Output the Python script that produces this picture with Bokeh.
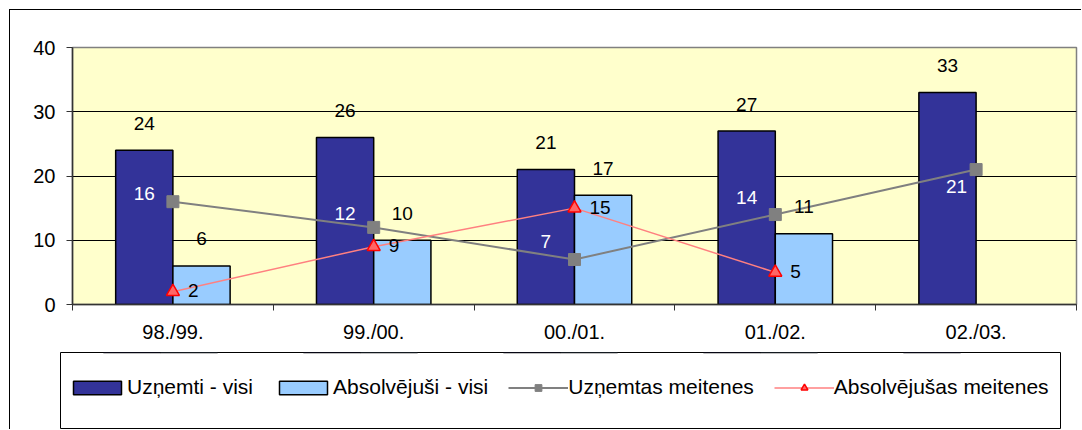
from bokeh.plotting import figure
from bokeh.layouts import column
from bokeh.models import ColumnDataSource, FixedTicker, Legend, LegendItem, Range1d
from bokeh.transform import dodge
from bokeh.core.properties import value
from bokeh.embed import file_html
from bokeh.resources import INLINE

# ---- data ----
years = ["98./99.", "99./00.", "00./01.", "01./02.", "02./03."]
uznemti_visi = [24, 26, 21, 27, 33]
absolvejusi_visi = [6, 10, 17, 11]
uznemtas_meitenes = [16, 12, 7, 14, 21]
absolvejusas_meitenes = [2, 9, 15, 5]
y_ticks = [0, 10, 20, 30, 40]
series_names = ["Uzņemti - visi", "Absolvējuši - visi",
                "Uzņemtas meitenes", "Absolvējušas meitenes"]

# ---- styling ----
FONT = "Liberation Sans"
DARK = "#333399"
LIGHT = "#99CCFF"
GREY = "#808080"
RED_LINE = "#FF8080"
TRI_FILL = "#FF6666"
TRI_LINE = "#FF0000"
BAR_W = 0.285
OFF = BAR_W / 2
W = 1071

centers = [i + 0.5 for i in range(len(years))]

src_all = ColumnDataSource(dict(x=centers, v=uznemti_visi,
                                t=[str(v) for v in uznemti_visi]))
src_abs = ColumnDataSource(dict(x=centers[:len(absolvejusi_visi)], v=absolvejusi_visi,
                                t=[str(v) for v in absolvejusi_visi]))
girls_dy = [-8, -14, -18, -17, 17]
girls_dx = [0, 0, 0, 0, 9]
src_gin = ColumnDataSource(dict(x=centers, v=uznemtas_meitenes,
                                t=[str(v) for v in uznemtas_meitenes],
                                dy=girls_dy, dx=girls_dx))
src_gout = ColumnDataSource(dict(x=centers[:len(absolvejusas_meitenes)], v=absolvejusas_meitenes,
                                 t=[str(v) for v in absolvejusas_meitenes]))


def draw_series(fig):
    r1 = fig.vbar(x=dodge("x", -OFF), top="v", bottom=0, width=BAR_W, source=src_all,
                  fill_color=DARK, line_color="black", line_width=1.5)
    r2 = fig.vbar(x=dodge("x", OFF), top="v", bottom=0, width=BAR_W, source=src_abs,
                  fill_color=LIGHT, line_color="black", line_width=1.5)
    r3l = fig.line("x", "v", source=src_gin, line_color=GREY, line_width=2)
    r3m = fig.scatter("x", "v", source=src_gin, marker="square", size=12,
                      fill_color=GREY, line_color=GREY)
    r4l = fig.line("x", "v", source=src_gout, line_color=RED_LINE, line_width=1.5)
    r4m = fig.scatter("x", "v", source=src_gout, marker="triangle", size=13,
                      fill_color=TRI_FILL, line_color=TRI_LINE, line_width=1.5)
    return [[r1], [r2], [r3l, r3m], [r4l, r4m]]


p = figure(width=W, height=335, output_backend="svg", toolbar_location=None,
           x_range=Range1d(0, len(years)), y_range=Range1d(y_ticks[0], y_ticks[-1]),
           min_border_left=62, min_border_top=37, min_border_right=5, min_border_bottom=41)
p.frame_align = False
p.background_fill_color = "#FFFFCC"
p.border_fill_color = "white"
p.outline_line_color = GREY
p.outline_line_width = 1.5

draw_series(p)

# data labels
common = dict(text_font=value(FONT), text_font_size="19px", text_baseline="middle")
p.text(x=dodge("x", -OFF), y="v", text="t", source=src_all, y_offset=-27,
       text_align="center", text_color="black", **common)
p.text(x=dodge("x", OFF), y="v", text="t", source=src_abs, y_offset=-27,
       text_align="center", text_color="black", **common)
p.text(x=dodge("x", -OFF), y="v", text="t", source=src_gin, y_offset="dy", x_offset="dx",
       text_align="center", text_color="white", **common)
p.text(x="x", y="v", text="t", source=src_gout, x_offset=15, y_offset=-1,
       text_align="left", text_color="black", **common)

# axes
p.xgrid.visible = False
p.ygrid.ticker = FixedTicker(ticks=y_ticks)
p.ygrid.grid_line_color = "black"
p.ygrid.grid_line_width = 1

xa = p.xaxis[0]
xa.ticker = FixedTicker(ticks=centers, minor_ticks=list(range(len(years) + 1)))
xa.major_label_overrides = {c: y for c, y in zip(centers, years)}
xa.major_tick_out = 0
xa.major_tick_in = 0
xa.minor_tick_out = 6
xa.minor_tick_in = 0
xa.minor_tick_line_color = "#333333"
xa.axis_line_color = "#333333"
xa.axis_line_width = 1.5
xa.major_label_standoff = 10
xa.major_label_text_font = FONT
xa.major_label_text_font_size = "20px"
xa.major_label_text_color = "black"

ya = p.yaxis[0]
ya.ticker = FixedTicker(ticks=y_ticks)
ya.major_tick_out = 6
ya.major_tick_in = 0
ya.minor_tick_out = 0
ya.minor_tick_in = 0
ya.major_tick_line_color = "#333333"
ya.axis_line_color = "#333333"
ya.axis_line_width = 1.5
ya.major_label_standoff = 11
ya.major_label_text_font = FONT
ya.major_label_text_font_size = "20px"
ya.major_label_text_color = "black"

# ---- legend panel: its frame is the legend box; the series are out of its view ----
pl = figure(width=W, height=84, output_backend="svg", toolbar_location=None,
            x_range=Range1d(0, len(years)), y_range=Range1d(-20, -10),
            x_axis_type=None, y_axis_type=None,
            min_border_left=50, min_border_top=7, min_border_right=21, min_border_bottom=1)
pl.frame_align = False
pl.xgrid.visible = False
pl.ygrid.visible = False
pl.background_fill_color = "white"
pl.border_fill_color = "white"
pl.outline_line_color = "black"
pl.outline_line_width = 1

groups = draw_series(pl)

legend = Legend(items=[LegendItem(label=n, renderers=g) for n, g in zip(series_names, groups)],
                orientation="horizontal", location=(7, 29))
legend.label_text_font = FONT
legend.label_text_font_size = "21px"
legend.label_text_color = "black"
legend.glyph_width = 60
legend.glyph_height = 17
legend.label_height = 17
legend.label_standoff = 0
legend.spacing = 20
legend.padding = 0
legend.margin = 0
legend.border_line_color = None
legend.background_fill_alpha = 0
pl.add_layout(legend, "center")

layout = column(p, pl, spacing=0,
                styles={"margin-left": "9px", "margin-top": "9px",
                        "border-top": "1px solid black", "border-left": "1px solid black"})

open("out.html", "w").write(file_html(layout, INLINE))
